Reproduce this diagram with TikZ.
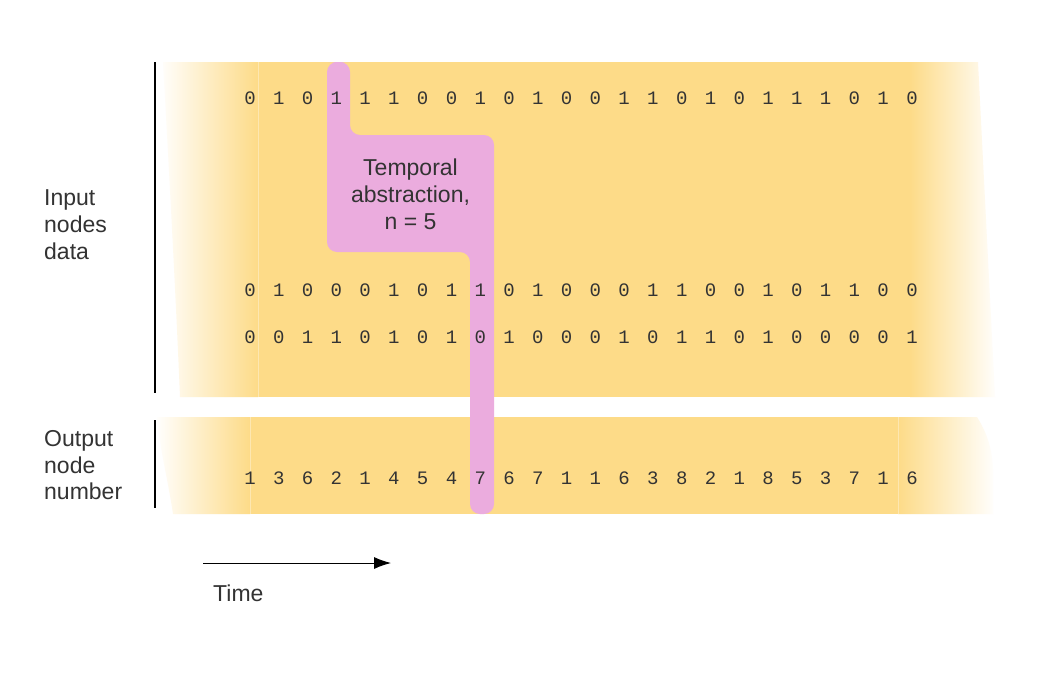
\documentclass[tikz,border=0pt]{standalone}
\usepackage{fontspec}
\setmainfont{Liberation Sans}
\newfontfamily\digitfont{Liberation Mono}
\usetikzlibrary{arrows.meta}
\definecolor{bandyellow}{HTML}{FDDB88}
\definecolor{abspink}{HTML}{EBACDE}
\definecolor{txtgray}{HTML}{333333}
\begin{document}
\begin{tikzpicture}[x=1pt,y=-1pt,
  digitnode/.style={anchor=base,inner sep=0pt,font=\digitfont\fontsize{19}{19}\selectfont,text=txtgray},
  sidetext/.style={anchor=base west,inner sep=0pt,font=\fontsize{23}{27}\selectfont,text=txtgray},
  pinktext/.style={anchor=base,inner sep=0pt,font=\fontsize{23}{27}\selectfont,text=txtgray},
  seam/.style={white,opacity=0.35,line width=0.8pt},
  axisline/.style={black,line width=1.1pt}]
\useasboundingbox[fill=white] (0,0) rectangle (1056,672);
% input band
\begin{scope}
\clip (163,62) -- (978,62) -- (995,397) -- (180,397) .. controls (176,300) and (168,150) .. (163,62) -- cycle;
\shade[left color=white,right color=bandyellow] (158,62) rectangle (258,397);
\fill[bandyellow] (257.5,62) rectangle (910.5,397);
\shade[left color=bandyellow,right color=white] (910,62) rectangle (998,397);
\draw[seam] (258,62) -- (258,397);
\end{scope}
% output band
\begin{scope}
\clip (157,417) -- (977,417) .. controls (985,430) and (992,445) .. (993,470) -- (993,514) -- (173,514) .. controls (168,480) and (160,450) .. (157,417) -- cycle;
\shade[left color=white,right color=bandyellow] (155,417) rectangle (250,514);
\fill[bandyellow] (249.5,417) rectangle (898.5,514);
\shade[left color=bandyellow,right color=white] (898,417) rectangle (996,514);
\draw[seam] (250,417) -- (250,514);
\draw[seam] (898,417) -- (898,514);
\end{scope}
% temporal abstraction shape
\fill[abspink,rounded corners=10] (338.5,62) -- (350,62) -- (350,135) -- (494,135) -- (494,514) -- (470,514) -- (470,252) -- (327,252) -- (327,62) -- cycle;
\node[pinktext] (ta1) at (410.5,175) {Temporal};
\node[pinktext] (ta2) at (410.5,202) {abstraction,};
\node[pinktext] (ta3) at (410.5,229) {n = 5};
% vertical axis lines
\draw[axisline] (155,62) -- (155,393);
\draw[axisline] (155,420) -- (155,508);
% side labels
\node[sidetext] (in1) at (44,205) {Input};
\node[sidetext] (in2) at (44,232) {nodes};
\node[sidetext] (in3) at (44,259) {data};
\node[sidetext] (out1) at (44,446) {Output};
\node[sidetext] (out2) at (44,473) {node};
\node[sidetext] (out3) at (44,499) {number};
% digit rows
\foreach \d [count=\i from 0] in {0,1,0,1,1,1,0,0,1,0,1,0,0,1,1,0,1,0,1,1,1,0,1,0}
  \node[digitnode] (a\i) at ({250+28.78*\i},104) {\d};
\foreach \d [count=\i from 0] in {0,1,0,0,0,1,0,1,1,0,1,0,0,0,1,1,0,0,1,0,1,1,0,0}
  \node[digitnode] (b\i) at ({250+28.78*\i},296.5) {\d};
\foreach \d [count=\i from 0] in {0,0,1,1,0,1,0,1,0,1,0,0,0,1,0,1,1,0,1,0,0,0,0,1}
  \node[digitnode] (c\i) at ({250+28.78*\i},343.5) {\d};
\foreach \d [count=\i from 0] in {1,3,6,2,1,4,5,4,7,6,7,1,1,6,3,8,2,1,8,5,3,7,1,6}
  \node[digitnode] (o\i) at ({250+28.78*\i},484.5) {\d};
% time arrow
\coordinate (tstart) at (203,563);
\coordinate (tend) at (391,563);
\draw[black,line width=0.9pt,-{Latex[length=17pt,width=12pt]}] (tstart) -- (tend);
\node[sidetext] (time) at (213,601) {Time};
\end{tikzpicture}
\end{document}
